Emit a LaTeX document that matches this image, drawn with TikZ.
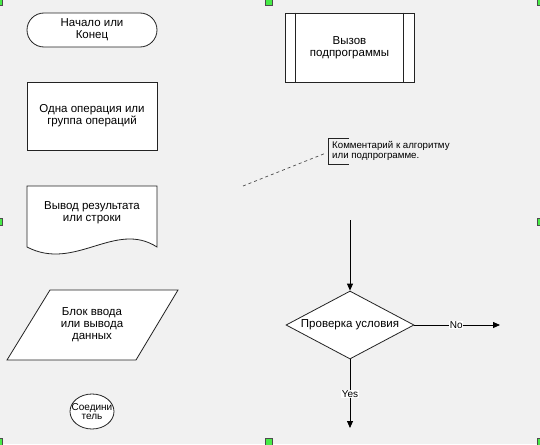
\documentclass[tikz,border=0pt]{standalone}
\usepackage{fontspec}
\setmainfont{Liberation Sans}
\usepackage{tikz}
\usetikzlibrary{shapes.geometric, arrows.meta, positioning, calc}
\definecolor{paper}{RGB}{241,241,241}
\definecolor{edgegray}{RGB}{35,35,35}
\definecolor{handlegreen}{RGB}{70,235,70}

\begin{document}
\begin{tikzpicture}[x=1pt, y=-1pt,
    box/.style={draw=edgegray, fill=white, line width=0.8pt, inner sep=0pt,
                align=center, font=\fontsize{11.5}{12}\selectfont},
    txt/.style={inner sep=0pt, align=center, font=\fontsize{11.5}{12}\selectfont},
    note/.style={inner sep=0pt, align=left, font=\fontsize{9.7}{10}\selectfont},
    flow/.style={draw=black, line width=0.8pt, -{Triangle[length=7pt,width=6pt]}},
    tag/.style={fill=white, inner sep=0.5pt, font=\fontsize{10}{10}\selectfont}]
    % paper
    \useasboundingbox (0,0) rectangle (540,444);
    \fill[paper] (0,0) rectangle (540,444);
    % LEFT COLUMN (symbols)
    % Start / end
    \node[box, rounded corners=17pt, minimum width=130pt, minimum height=34pt]
        (start) at (92,30) {Начало или\\Конец};
    % Process
    \node[box, minimum width=130pt, minimum height=68pt]
        (oper) at (92,116) {Одна операция или\\группа операций};
    % Document (output)
    \draw[edgegray, fill=white, line width=0.8pt] (27,186) -- (157,186) -- (157,247)
        .. controls (115,220) and (75,272) .. (27,247) -- cycle;
    \node[txt] (docText) at (92,213) {Вывод результата\\или строки};
    % Input / output
    \draw[edgegray, fill=white, line width=0.8pt] (50,290) -- (178,290) -- (136,360)
        -- (7,360) -- cycle;
    \node[txt] (ioText) at (92,325) {Блок ввода\\или вывода\\данных};
    % Connector
    \node[box, ellipse, minimum width=44pt, minimum height=35pt] (joint) at (92,411.5) {};
    \node[txt, font=\fontsize{10}{9.5}\selectfont] (jointText) at (joint.center)
        {Соедини\\тель};
    % RIGHT COLUMN
    % Subroutine call
    \node[box, minimum width=129pt, minimum height=69pt]
        (sub) at (349.5,47.5) {Вызов\\подпрограммы};
    \draw[edgegray, line width=0.8pt] ([xshift=11pt]sub.north west) -- ([xshift=11pt]sub.south west);
    \draw[edgegray, line width=0.8pt] ([xshift=-11pt]sub.north east) -- ([xshift=-11pt]sub.south east);
    % Comment
    \node[note, anchor=west] (comment) at (332,151)
        {Комментарий к алгоритму\\или подпрограмме.};
    \draw[edgegray, line width=0.8pt] ([shift={(17,-13)}]comment.west) -- ([shift={(-4,-13)}]comment.west)
        -- ([shift={(-4,13)}]comment.west) -- ([shift={(17,13)}]comment.west);
    \coordinate (noteEnd) at (243,186);
    \draw[black!70, line width=0.7pt, dash pattern=on 3pt off 3pt]
        (noteEnd) -- ([shift={(-6,2)}]comment.west);
    % Decision
    \node[box, diamond, minimum width=128pt, minimum height=68pt]
        (check) at (350,325) {};
    \node[txt] (checkText) at (check.center) {Проверка условия};
    \coordinate (flowIn) at (350,220);
    \coordinate (noEnd) at (500,325);
    \coordinate (yesEnd) at (350,428);
    \draw[flow] (flowIn) -- (check.north);
    \draw[flow] (check.east) -- (noEnd) node[tag, pos=0.49] {No};
    \draw[flow] (check.south) -- (yesEnd) node[tag, pos=0.5] {Yes};
    % selection handles
    \foreach \hx/\hy in {-1.5/1.5, 268.5/1.5, 540.5/1.5, -1.5/221.5,
                         540.5/221.5, -1.5/441.5, 268.5/441.5, 540.5/441.5}
        \filldraw[fill=handlegreen, draw=black!70, line width=0.6pt]
            (\hx-3.5,\hy-3.5) rectangle (\hx+3.5,\hy+3.5);
\end{tikzpicture}
\end{document}
